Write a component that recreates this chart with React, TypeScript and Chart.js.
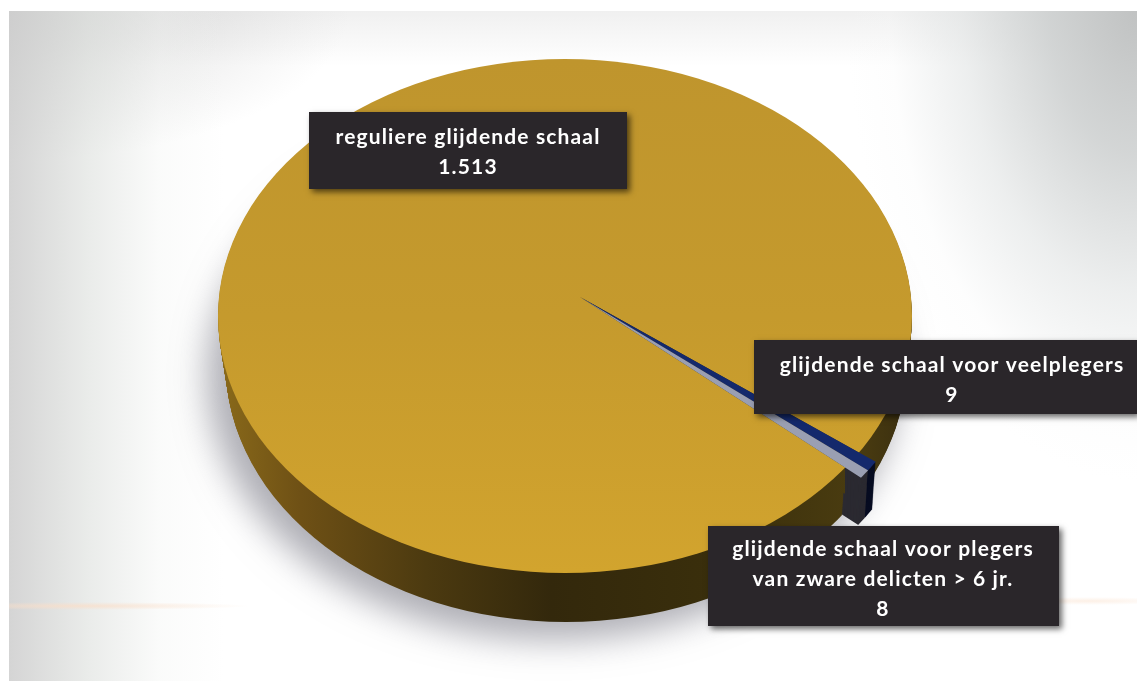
import React, { useEffect, useRef } from "react";
import { Chart, registerables } from "chart.js";

Chart.register(...registerables);

const categories: string[][] = [
  ["reguliere glijdende schaal"],
  ["glijdende schaal voor veelplegers"],
  ["glijdende schaal voor plegers", "van zware delicten > 6 jr."],
];
const values = [1513, 9, 8];
const topColors = ["#C89C2E", "#14296C", "#9A9FB2"];
const wallColors = ["#4a3a10", "#080D22", "#2B2A31"];

const LABEL_BOXES = [
  { x: 309, y: 112, w: 318, h: 77, cx: 468, base: 144 },
  { x: 754, y: 340, w: 383, h: 74, cx: 952, base: 372 },
  { x: 708, y: 526, w: 351, h: 100, cx: 883, base: 556 },
];
const TIP = { x: 580, y: 297 };
const RIM = { cx: 565, cy: 316, rx: 347, ry: 257 };
const TILT = 0.74;
const DEPTH = 49;
const SMALL_SHIFT = { x: 17, y: 9 };
const WALL_SPLIT_X = 845;

const piePlugin = {
  id: "tiltedPie",
  beforeDatasetsDraw(chart: any) {
    const ctx: CanvasRenderingContext2D = chart.ctx;
    const arcs: any[] = chart.getDatasetMeta(0).data;
    const first = arcs[0];
    const S = 1300 / first.outerRadius;
    const userX = (X: number) => first.x + (X - TIP.x) / S;
    const userY = (Y: number) => first.y + (Y - TIP.y) / (S * TILT);

    const wallFill = ctx.createLinearGradient(userX(218), 0, userX(912), 0);
    wallFill.addColorStop(0, "#8a6a1a");
    wallFill.addColorStop(0.12, "#6e5015");
    wallFill.addColorStop(0.3, "#4c3a10");
    wallFill.addColorStop(0.48, "#33280c");
    wallFill.addColorStop(0.72, "#3a2f0c");
    wallFill.addColorStop(0.92, "#4a3c10");
    wallFill.addColorStop(1, "#3a2e10");

    const topFill = ctx.createLinearGradient(0, userY(60), 0, userY(573));
    topFill.addColorStop(0, "#BF952D");
    topFill.addColorStop(0.5, "#C59A2D");
    topFill.addColorStop(1, "#D2A42E");

    const drawArc = (
      arc: any,
      fill: any,
      d: number,
      shift: { x: number; y: number },
      region?: [number, number],
    ) => {
      ctx.save();
      if (region) {
        ctx.beginPath();
        ctx.rect(region[0], 0, region[1] - region[0], 681);
        ctx.clip();
      }
      ctx.beginPath();
      ctx.ellipse(
        RIM.cx + shift.x + d * 0.02,
        RIM.cy + shift.y + d,
        RIM.rx - d * 0.14,
        RIM.ry,
        0,
        0,
        Math.PI * 2,
      );
      ctx.clip();
      ctx.translate(TIP.x, TIP.y + d);
      ctx.scale(S, S * TILT);
      ctx.translate(-arc.x, -arc.y);
      const saved = arc.options;
      arc.options = { ...saved, backgroundColor: fill, borderWidth: 0 };
      arc.draw(ctx);
      arc.options = saved;
      ctx.restore();
    };

    // soft cast shadow
    ctx.save();
    ctx.shadowColor = "rgba(125,125,135,0.62)";
    ctx.shadowBlur = 34;
    ctx.shadowOffsetX = 3000;
    ctx.shadowOffsetY = 0;
    ctx.fillStyle = "#000";
    ctx.beginPath();
    ctx.ellipse(553 - 3000, 376, 346, 264, 0, 0, Math.PI * 2);
    ctx.fill();
    ctx.restore();

    const none = { x: 0, y: 0 };
    for (let d = DEPTH; d >= 1; d--) drawArc(first, wallFill, d, none, [WALL_SPLIT_X, 1137]);
    for (let d = DEPTH; d >= 1; d--) drawArc(arcs[1], wallColors[1], d, SMALL_SHIFT);
    for (let d = DEPTH; d >= 1; d--) drawArc(arcs[2], wallColors[2], d, SMALL_SHIFT);
    for (let d = DEPTH; d >= 1; d--) drawArc(first, wallFill, d, none, [0, WALL_SPLIT_X]);

    drawArc(first, topFill, 0, none);
    drawArc(arcs[1], topColors[1], 0, SMALL_SHIFT);
    drawArc(arcs[2], topColors[2], 0, SMALL_SHIFT);
    return false;
  },
  afterDraw(chart: any) {
    const ctx: CanvasRenderingContext2D = chart.ctx;
    LABEL_BOXES.forEach((b, i) => {
      ctx.save();
      ctx.shadowColor = "rgba(0,0,0,0.6)";
      ctx.shadowBlur = 6;
      ctx.shadowOffsetX = 3;
      ctx.shadowOffsetY = 3;
      ctx.fillStyle = "#2A262A";
      ctx.fillRect(b.x, b.y, b.w, b.h);
      ctx.restore();
      ctx.save();
      ctx.fillStyle = "#FFFFFF";
      ctx.font = "bold 21px Lato, 'Open Sans', sans-serif";
      (ctx as any).letterSpacing = "1.15px";
      ctx.textAlign = "center";
      ctx.textBaseline = "alphabetic";
      const lines = [...categories[i], values[i].toLocaleString("nl-NL")];
      lines.forEach((line, n) => ctx.fillText(line, b.cx, b.base + n * 30));
      ctx.restore();
    });
  },
};

export default function App() {
  const ref = useRef<HTMLCanvasElement>(null);
  useEffect(() => {
    const chart = new Chart(ref.current!, {
      type: "pie",
      data: {
        labels: categories as any,
        datasets: [{ data: values, backgroundColor: topColors, borderWidth: 0 }],
      },
      options: {
        responsive: false,
        animation: false,
        rotation: 131,
        plugins: { legend: { display: false }, tooltip: { enabled: false } },
      },
      plugins: [piePlugin as any],
    });
    return () => chart.destroy();
  }, []);
  return (
    <div style={{ position: "fixed", left: 0, top: 0, width: 1137, height: 681, background: "#fff", overflow: "hidden" }}>
      <div
        style={{
          position: "absolute",
          left: 9,
          top: 11,
          right: 0,
          bottom: 0,
          background: [
            "radial-gradient(ellipse 170px 4px at 70px 595px, rgba(250,222,200,0.75), transparent)",
            "radial-gradient(ellipse 90px 4px at 1080px 590px, rgba(250,225,205,0.5), transparent)",
            "radial-gradient(ellipse 290px 470px at 100% 0, rgba(190,192,192,0.95) 0, rgba(200,203,203,0.8) 30%, rgba(222,225,225,0.55) 60%, rgba(245,246,246,0.2) 85%, transparent 100%)",
            "linear-gradient(to right, rgba(205,205,205,0.85) 0, rgba(220,223,220,0.6) 80px, rgba(240,242,240,0.3) 150px, transparent 215px)",
            "radial-gradient(ellipse 340px 150px at 0 0, rgba(195,195,195,0.65), transparent)",
            "linear-gradient(to bottom, rgba(222,222,222,0.45) 0, transparent 55px)",
            "#fff",
          ].join(","),
        }}
      />
      <canvas ref={ref} width={1137} height={681} style={{ position: "absolute", left: 0, top: 0 }} />
    </div>
  );
}
